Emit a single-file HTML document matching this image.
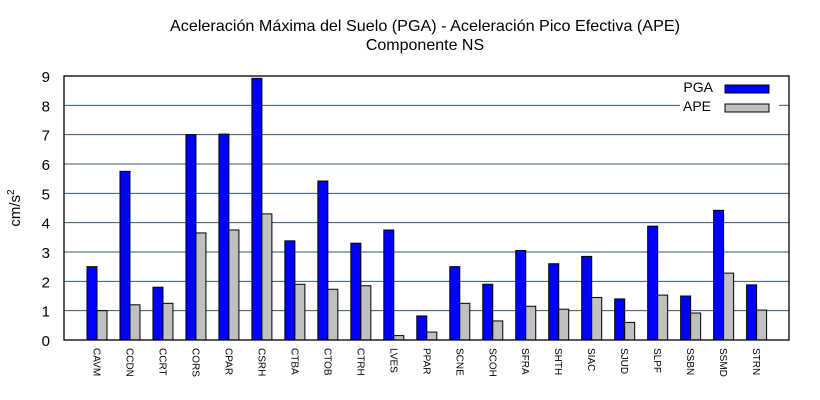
<!DOCTYPE html>
<html><head><meta charset="utf-8"><style>html,body{margin:0;padding:0;background:#fff}svg{display:block}</style></head>
<body>
<svg id="c" width="820" height="400" xmlns="http://www.w3.org/2000/svg" font-family="Liberation Sans, sans-serif">
<rect width="820" height="400" fill="#fff"/>
<text x="425" y="31" font-size="16" text-anchor="middle" fill="#000" textLength="510" lengthAdjust="spacingAndGlyphs">Aceleración Máxima del Suelo (PGA) -  Aceleración Pico Efectiva (APE)</text>
<text x="425" y="50" font-size="16" text-anchor="middle" fill="#000">Componente NS</text>
<text transform="translate(20,208) rotate(-90)" font-size="15" text-anchor="middle" fill="#000">cm/s<tspan font-size="10" dy="-6">2</tspan></text>
<g id="g"></g>
</svg>
<script>
var g=document.getElementById('g'),s='';
var L=64,R=789,T=76,B=340,u=(B-T)/9;
for(var i=0;i<=9;i++){var y=B-i*u;
 if(i>0&&i<9){ if(i==8){s+='<line x1="'+L+'" y1="'+y+'" x2="680" y2="'+y+'" stroke="#2d5a78" stroke-width="1"/><line x1="779" y1="'+y+'" x2="'+R+'" y2="'+y+'" stroke="#2d5a78"/>';}
 else s+='<line x1="'+L+'" y1="'+y+'" x2="'+R+'" y2="'+y+'" stroke="#2d5a78" stroke-width="1"/>';}
 s+='<text x="50" y="'+(y+6)+'" font-size="15" text-anchor="end" fill="#000">'+i+'</text>';}
var d=[["CAVM",2.5,1.0],["CCDN",5.75,1.2],["CCRT",1.8,1.25],["CORS",7.0,3.65],["CPAR",7.02,3.75],["CSRH",8.92,4.3],["CTBA",3.38,1.9],["CTOB",5.42,1.73],["CTRH",3.3,1.85],["LVES",3.75,0.15],["PPAR",0.82,0.27],["SCNE",2.5,1.25],["SCOH",1.9,0.65],["SFRA",3.05,1.15],["SHTH",2.6,1.05],["SIAC",2.85,1.45],["SJUD",1.4,0.6],["SLPF",3.88,1.53],["SSBN",1.5,0.92],["SSMD",4.42,2.28],["STRN",1.88,1.02]];
for(var k=0;k<d.length;k++){var cx=97+32.98*k;
 var h1=d[k][1]*u,h2=d[k][2]*u;
 s+='<rect x="'+(cx-10)+'" y="'+(B-h1)+'" width="10" height="'+h1+'" fill="#0000ff" stroke="#000" stroke-width="1"/>';
 s+='<rect x="'+cx+'" y="'+(B-h2)+'" width="10" height="'+h2+'" fill="#c0c0c0" stroke="#000" stroke-width="1"/>';
 s+='<text transform="translate('+(cx-3.5)+',348) rotate(90)" font-size="10" fill="#000">'+d[k][0]+'</text>';}
s+='<rect x="'+L+'" y="'+T+'" width="'+(R-L)+'" height="'+(B-T)+'" fill="none" stroke="#000" stroke-width="1.3"/>';
s+='<text x="713" y="92" font-size="14" text-anchor="end" fill="#000">PGA</text><rect x="725" y="85" width="44" height="8" fill="#0000ff" stroke="#000"/>';
s+='<text x="711" y="111" font-size="14" text-anchor="end" fill="#000">APE</text><rect x="725" y="104" width="44" height="8" fill="#c0c0c0" stroke="#000"/>';
g.innerHTML=s;
</script>
</body></html>
